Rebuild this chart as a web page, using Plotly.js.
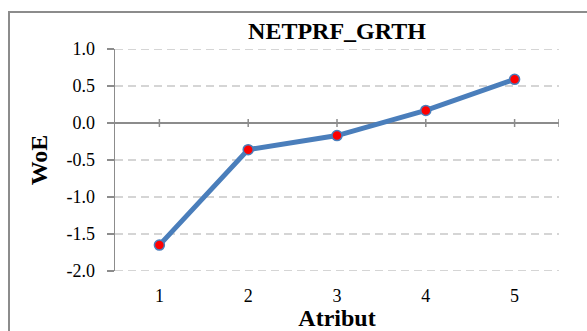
<!DOCTYPE html>
<html>
<head>
<meta charset="utf-8">
<script src="https://cdn.plot.ly/plotly-3.0.1.min.js"></script>
<style>
html,body{margin:0;padding:0;background:#fff;overflow:hidden;}
#wrap{position:relative;width:587px;height:331px;overflow:hidden;}
#frame{position:absolute;left:8px;top:11px;width:620px;height:400px;border:2px solid #8c8c8c;box-sizing:border-box;}
#chart{position:absolute;left:0;top:0;width:587px;height:331px;}
</style>
</head>
<body>
<div id="wrap"><div id="frame"></div><div id="chart"></div></div>
<script>
const categories = [1, 2, 3, 4, 5];
const woe = [-1.65, -0.36, -0.17, 0.17, 0.59];
const yTicks = [-2.0, -1.5, -1.0, -0.5, 0.0, 0.5, 1.0];
const yTickText = ['-2.0', '-1.5', '-1.0', '-0.5', '0.0', '0.5', '1.0'];
const chartTitle = 'NETPRF_GRTH';
const xTitle = 'Atribut';
const yTitle = 'WoE';

const xRange = [categories[0] - 0.5, categories[categories.length - 1] + 0.5];
const yRange = [yTicks[0], yTicks[yTicks.length - 1]];
const tickPositions = categories.concat([xRange[1]]);
const axisGray = '#8c8c8c';

// dashed horizontal gridlines (all ticks except the zero line)
const gridShapes = yTicks.filter(function (v) { return v !== 0; }).map(function (v) {
  return {
    type: 'line', xref: 'paper', yref: 'y', x0: 0, x1: 1, y0: v, y1: v,
    line: {color: '#c8c8c8', width: 1.5, dash: '8px,5px'}, layer: 'below'
  };
});
// tick marks crossing the zero line (category axis)
const tickShapes = tickPositions.map(function (c) {
  return {
    type: 'line', xref: 'x', yref: 'y', ysizemode: 'pixel', yanchor: 0,
    x0: c, x1: c, y0: -4, y1: 4,
    line: {color: axisGray, width: 1.5}, layer: 'above'
  };
});

const trace = {
  x: categories, y: woe, type: 'scatter', mode: 'lines+markers',
  line: {color: '#4a7ebb', width: 5},
  marker: {color: '#ff0000', size: 10, line: {color: '#4a7ebb', width: 1.5}},
  cliponaxis: false, hoverinfo: 'skip'
};

const serif = '"Liberation Serif", "Times New Roman", serif';

const layout = {
  width: 587, height: 331,
  margin: {l: 115, r: 28, t: 49, b: 60},
  paper_bgcolor: 'rgba(0,0,0,0)', plot_bgcolor: 'rgba(0,0,0,0)',
  showlegend: false,
  font: {family: serif, color: '#000', size: 18},
  title: {
    text: '<b>' + chartTitle + '</b>', font: {family: serif, size: 24, color: '#000'},
    xref: 'paper', x: 0.5, xanchor: 'center', yref: 'container', y: 1 - 31 / 331, yanchor: 'middle'
  },
  xaxis: {
    range: xRange, tickvals: categories, ticktext: categories.map(String),
    showgrid: false, zeroline: false, showline: false, ticks: '',
    ticklabelstandoff: 12,
    tickfont: {family: serif, size: 18, color: '#000'},
    title: {text: '<b>' + xTitle + '</b>', font: {family: serif, size: 24, color: '#000'}, standoff: 9},
    fixedrange: true
  },
  yaxis: {
    range: yRange, tickvals: yTicks, ticktext: yTickText,
    showgrid: false,
    zeroline: true, zerolinecolor: axisGray, zerolinewidth: 1.5,
    showline: true, linecolor: axisGray, linewidth: 1.5,
    ticks: 'outside', ticklen: 7, tickcolor: axisGray, tickwidth: 1.5,
    ticklabelstandoff: 8,
    tickfont: {family: serif, size: 18, color: '#000'},
    title: {text: '<b>' + yTitle + '</b>', font: {family: serif, size: 24, color: '#000'}, standoff: 12},
    fixedrange: true
  },
  shapes: gridShapes.concat(tickShapes)
};

Plotly.newPlot('chart', [trace], layout, {staticPlot: true, displayModeBar: false});
</script>
</body>
</html>
